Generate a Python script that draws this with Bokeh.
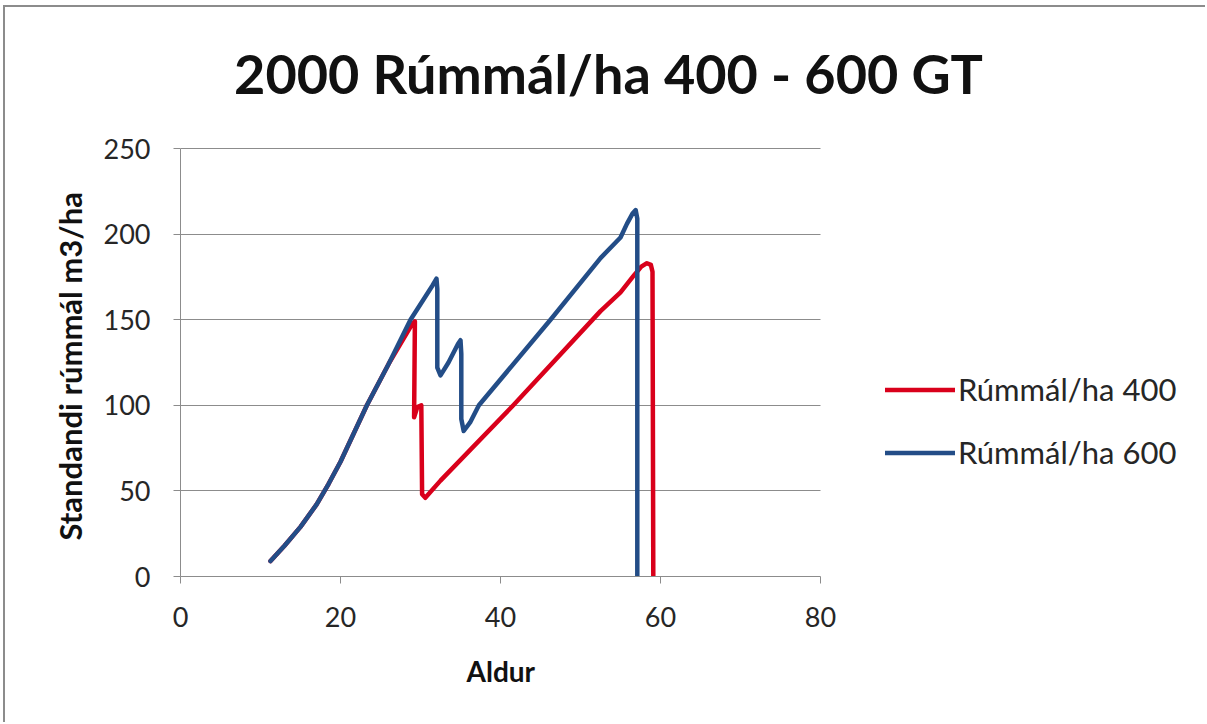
from bokeh.plotting import figure
from bokeh.models import Legend, LegendItem, FixedTicker, Range1d, Label, Title
from bokeh.embed import file_html
from bokeh.resources import INLINE

# Standing volume (m3/ha) by stand age, two planting densities
age_400 = [11.25, 13.0, 15.0, 17.0, 18.5, 20.0, 23.3, 26.0, 28.9, 29.3, 29.2, 29.6, 30.1, 30.2, 30.6,
           32.5, 41.6, 52.5, 55.0, 56.7, 57.6, 58.3, 58.8, 59.0, 59.1]
vol_400 = [9, 18, 29, 42, 54, 67, 100, 124, 147, 149, 93, 99, 100, 48, 46,
           56, 100, 155, 166, 176, 181, 183, 182, 178, 0]

age_600 = [11.25, 13.0, 15.0, 17.0, 18.5, 20.0, 23.3, 26.0, 28.75, 31.5, 32.0, 32.1, 32.1, 32.5,
           33.5, 34.7, 35.0, 35.1, 35.1, 35.4, 36.2, 37.3, 46.25, 52.5, 55.0, 55.8, 56.5, 56.9, 57.1, 57.1]
vol_600 = [9, 18, 29, 42, 54, 67, 100, 124, 150, 170, 174, 168, 122, 117.5,
           125, 136, 138, 130, 92, 85, 90, 100, 150, 186, 198, 206, 212, 214, 209, 0]

x_ticks = [0, 20, 40, 60, 80]
y_ticks = [0, 50, 100, 150, 200, 250]

title_text = "2000 Rúmmál/ha 400 - 600 GT"
x_title = "Aldur"
y_title = "Standandi rúmmál m3/ha"
label_400 = "Rúmmál/ha 400"
label_600 = "Rúmmál/ha 600"

RED = "#d9001b"
BLUE = "#234d87"
GRID = "#8c8c8c"
FONT = "Lato"

# Canvas geometry: the data frame runs to the right/top canvas edges so the
# title and legend can live inside it; the axes themselves are bounded.
W, H = 1202, 717
LEFT, BOTTOM = 175, 148
PX_X = 8.0            # pixels per year of age
PX_Y = 428 / 250      # pixels per m3/ha
x_end = (W - LEFT) / PX_X
y_end = (H - BOTTOM) / PX_Y

p = figure(width=W, height=H, output_backend="svg", toolbar_location=None,
           x_range=Range1d(0, x_end), y_range=Range1d(0, y_end),
           min_border_left=LEFT, min_border_right=0,
           min_border_top=0, min_border_bottom=BOTTOM)
p.styles = {"margin-left": "3px", "margin-top": "5px",
            "border-left": "2px solid #8c8c8c", "border-top": "2px solid #8c8c8c"}
p.background_fill_color = "white"
p.border_fill_color = "white"
p.outline_line_color = None

# axes
for ax in (p.xaxis[0], p.yaxis[0]):
    ax.axis_line_color = GRID
    ax.major_tick_line_color = GRID
    ax.major_tick_in = 0
    ax.major_tick_out = 7
    ax.minor_tick_line_color = None
    ax.major_label_text_font = FONT
    ax.major_label_text_font_size = "27px"
    ax.major_label_text_color = "#262626"
    ax.axis_label = None

p.xaxis.ticker = FixedTicker(ticks=x_ticks)
p.yaxis.ticker = FixedTicker(ticks=y_ticks)
p.xaxis.bounds = (x_ticks[0], x_ticks[-1])
p.yaxis.bounds = (y_ticks[0], y_ticks[-1])
p.xaxis.major_label_standoff = 23
p.yaxis.major_label_standoff = 23

# horizontal grid only, limited to the x axis extent
p.xgrid.grid_line_color = None
p.ygrid.ticker = FixedTicker(ticks=y_ticks)
try:
    p.ygrid.cross_bounds = (x_ticks[0], x_ticks[-1])
    p.ygrid.grid_line_color = GRID
    p.ygrid.grid_line_width = 1
except AttributeError:
    p.ygrid.grid_line_color = None
    p.segment(x0=[x_ticks[0]] * len(y_ticks), x1=[x_ticks[-1]] * len(y_ticks),
              y0=y_ticks, y1=y_ticks, line_color=GRID, line_width=1)

# axis titles as side titles so they centre on the bounded axes
p.add_layout(Title(text=x_title, text_font=FONT, text_font_style="bold",
                   text_font_size="28px", text_color="#111111",
                   align="left", offset=286, standoff=44), "below")
p.add_layout(Title(text=y_title, text_font=FONT, text_font_style="bold",
                   text_font_size="31px", text_color="#111111",
                   align="left", offset=36, standoff=24), "left")

r400 = p.line(age_400, vol_400, line_color=RED, line_width=4.5, line_join="round", line_cap="round")
r600 = p.line(age_600, vol_600, line_color=BLUE, line_width=4.5, line_join="round", line_cap="round")

legend = Legend(items=[LegendItem(label=label_400, renderers=[r400]),
                       LegendItem(label=label_600, renderers=[r600])],
                location=(705, 105), orientation="vertical",
                background_fill_alpha=0, border_line_color=None,
                glyph_width=70, glyph_height=27, label_height=27,
                spacing=25, label_standoff=3, padding=0, margin=0,
                label_text_font=FONT, label_text_font_size="31px",
                label_text_color="#262626")
p.add_layout(legend)

# chart title
p.add_layout(Label(x=(603 - LEFT) / PX_X, y=(H - BOTTOM - 66) / PX_Y,
                   text=title_text, text_font=FONT, text_font_style="bold",
                   text_font_size="54px", text_color="#111111",
                   text_align="center", text_baseline="alphabetic"))

open("out.html", "w").write(file_html(p, INLINE))
